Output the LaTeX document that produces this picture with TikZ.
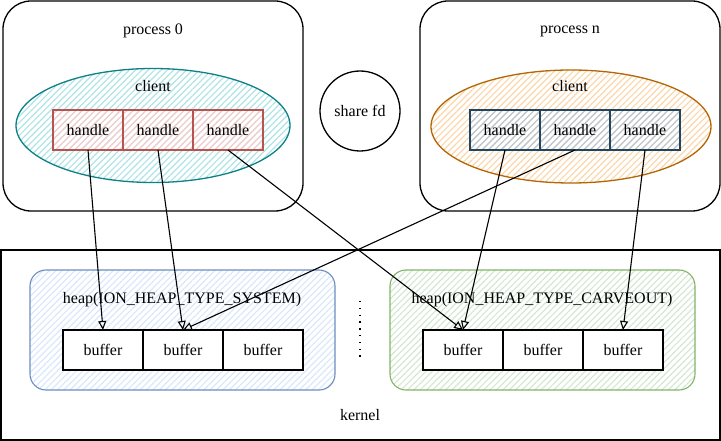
\documentclass[tikz,border=0pt]{standalone}
\usepackage{fontspec}
\setmainfont{Liberation Serif}
\usetikzlibrary{arrows.meta, positioning, shapes.geometric, patterns.meta}

\definecolor{tealfill}{HTML}{B0E3E6}
\definecolor{tealline}{HTML}{0E8088}
\definecolor{redfill}{HTML}{F8CECC}
\definecolor{redline}{HTML}{B85450}
\definecolor{orangefill}{HTML}{FAD7AC}
\definecolor{orangeline}{HTML}{B46504}
\definecolor{slatefill}{HTML}{BAC8D3}
\definecolor{slateline}{HTML}{23445D}
\definecolor{bluefill}{HTML}{DAE8FC}
\definecolor{blueline}{HTML}{6C8EBF}
\definecolor{greenfill}{HTML}{D5E8D4}
\definecolor{greenline}{HTML}{82B366}

\begin{document}
\begin{tikzpicture}[
        x=1pt, y=-1pt,
        >={Triangle[open, length=9pt, width=8pt]},
        every node/.style={font=\fontsize{16}{19}\selectfont, inner sep=0pt, outer sep=0pt},
        hatch/.style={pattern={Lines[angle=45, distance=4.5pt, line width=1.2pt]}, pattern color=#1},
        proc/.style={draw, line width=1.3pt, rounded corners=28pt, minimum width=300pt, minimum height=210pt},
        client/.style={ellipse, draw, line width=1.3pt, minimum width=274pt, minimum height=114pt},
        handle/.style={rectangle, draw, line width=1.1pt, minimum width=70pt, minimum height=40pt},
        heap/.style={draw, line width=1.1pt, rounded corners=16pt, minimum width=305pt, minimum height=120pt},
        buffer/.style={rectangle, draw, fill=white, line width=1.1pt, minimum width=80pt, minimum height=40pt},
        link/.style={->, line width=1.1pt}
    ]
    \useasboundingbox (0,0) rectangle (721,441);

    % kernel side
    \node[draw, line width=1.3pt, minimum width=719pt, minimum height=190pt] (kernel) at (360.5,345) {};
    \node (kerneltxt) at (360,415) {kernel};

    \node[heap, draw=blueline, hatch=bluefill] (heapsys) at (182.5,330) {};
    \node (heapsystxt) at (182,300) {heap(ION\_HEAP\_TYPE\_SYSTEM)};
    \node[buffer] (bs1) at (103,350) {buffer};
    \node[buffer, right=0pt of bs1] (bs2) {buffer};
    \node[buffer, right=0pt of bs2] (bs3) {buffer};

    \node[heap, draw=greenline, hatch=greenfill] (heapcar) at (542.5,330) {};
    \node (heapcartxt) at (542,300) {heap(ION\_HEAP\_TYPE\_CARVEOUT)};
    \node[buffer] (bc1) at (463,350) {buffer};
    \node[buffer, right=0pt of bc1] (bc2) {buffer};
    \node[buffer, right=0pt of bc2] (bc3) {buffer};

    \coordinate (dottop) at (360,301);
    \coordinate (dotbot) at (360,362);
    \draw[line width=1.4pt, dash pattern=on 1.4pt off 5.4pt] (dottop) -- (dotbot);

    % user side
    \node[proc] (proc0) at (153,106) {};
    \node (proc0txt) at (153,31) {process 0};
    \node[client, draw=tealline, hatch=tealfill] (cli0) at (153,125.5) {};
    \node (cli0txt) at (153,86) {client};
    \node[handle, draw=redline, hatch=redfill] (h01) at (88,130) {handle};
    \node[handle, draw=redline, hatch=redfill, right=0pt of h01] (h02) {handle};
    \node[handle, draw=redline, hatch=redfill, right=0pt of h02] (h03) {handle};

    \node[proc] (procn) at (570,106) {};
    \node (procntxt) at (570,31) {process n};
    \node[client, draw=orangeline, hatch=orangefill, minimum width=280pt, minimum height=113pt] (clin) at (571,126.5) {};
    \node (clintxt) at (570,86) {client};
    \node[handle, draw=slateline, hatch=slatefill] (hn1) at (505,130) {handle};
    \node[handle, draw=slateline, hatch=slatefill, right=0pt of hn1] (hn2) {handle};
    \node[handle, draw=slateline, hatch=slatefill, right=0pt of hn2] (hn3) {handle};

    \node[circle, draw, line width=1.3pt, minimum size=80pt] (share) at (360,111) {share fd};

    % handle -> buffer
    \draw[link] (h01.south) -- (bs1.north);
    \draw[link] (h02.south) -- (bs2.north);
    \draw[link] (h03.south) -- (bc1.north);
    \draw[link] (hn1.south) -- (bc1.north);
    \draw[link] (hn2.south) -- (bs2.north);
    \draw[link] (hn3.south) -- (bc3.north);
\end{tikzpicture}
\end{document}
